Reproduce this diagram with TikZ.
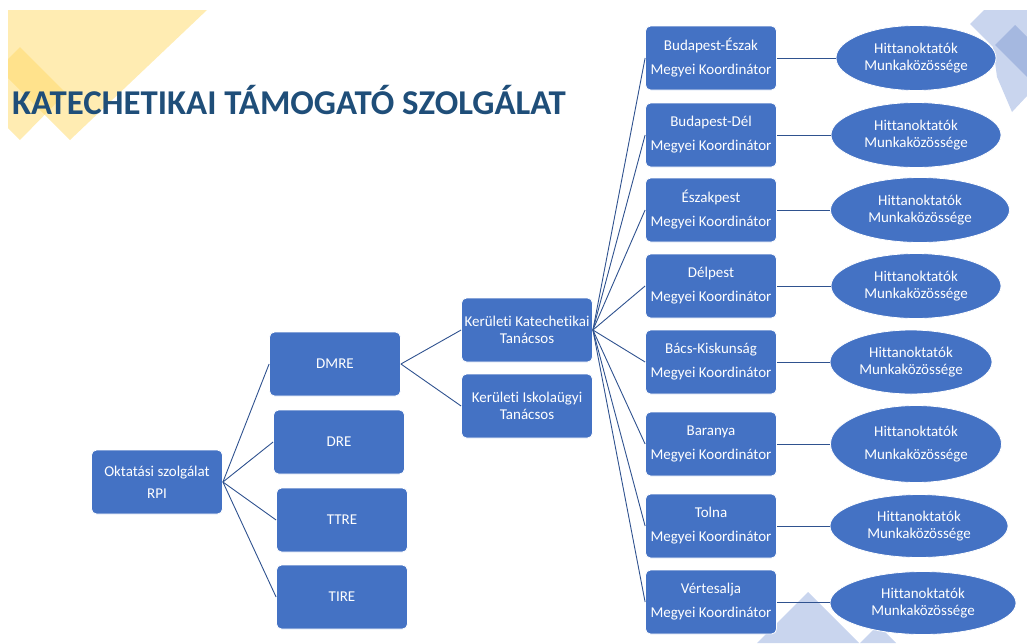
\documentclass[tikz,border=0pt]{standalone}
\usepackage{fontspec}
\setmainfont{Carlito}[Ligatures=NoCommon]
\usepackage{tikz}
\usepackage{xcolor}
\usetikzlibrary{shapes.geometric}

\definecolor{boxblue}{HTML}{4472C4}
\definecolor{lineblue}{HTML}{2F528F}
\definecolor{titleblue}{HTML}{1F4E79}
\definecolor{decoyellow}{HTML}{FFD966}
\definecolor{decoblue}{HTML}{C9D5EE}
\definecolor{decodark}{HTML}{A5B8E0}

\begin{document}
\begin{tikzpicture}[x=1pt, y=-1pt,
    box/.style={draw=white, line width=0.8pt, fill=boxblue, rounded corners=5pt,
        minimum width=131pt, minimum height=64pt, inner sep=0pt, text=white,
        align=center, font=\fontsize{15}{24}\selectfont},
    oval/.style={ellipse, draw=white, line width=0.8pt, fill=boxblue, inner sep=0pt,
        text=white, align=center, font=\fontsize{15}{17}\selectfont},
    link/.style={draw=lineblue, line width=0.9pt}]
    \useasboundingbox (0,0) rectangle (1027,643);

    % background shapes
    \fill[decoyellow, opacity=0.5] (8,10) -- (207,10) -- (70,140) -- (8,78) -- cycle;
    \fill[decoyellow, opacity=0.5] (8,59) -- (20,47) -- (66,93) -- (20,140) -- (8,128) -- cycle;
    \fill[decoblue] (984,10) -- (1027,10) -- (1027,96) -- (1012,112) -- (997,77) -- (993,47) -- (970,24) -- cycle;
    \fill[decodark] (1015,25) -- (1027,37) -- (1027,77) -- (995,45) -- cycle;
    \fill[decoblue] (808,592) -- (859,643) -- (757,643) -- cycle;
    \fill[decoblue] (878,625) -- (896,643) -- (860,643) -- cycle;

    \node[anchor=base west, inner sep=0pt, text=titleblue,
        font=\fontsize{34.8}{34.8}\selectfont\bfseries] (title) at (12,114) {KATECHETIKAI TÁMOGATÓ SZOLGÁLAT};

    \node[box, font=\fontsize{15}{22}\selectfont] (rpi) at (157,482) {Oktatási szolgálat\\RPI};
    \node[box] (dmre) at (335,364) {DMRE};
    \node[box] (dre) at (339,442) {DRE};
    \node[box] (ttre) at (342,520) {TTRE};
    \node[box] (tire) at (342,597) {TIRE};
    \node[box, font=\fontsize{15}{17}\selectfont] (kkt) at (527,330) {Kerületi Katechetikai\\Tanácsos};
    \node[box, font=\fontsize{15}{17}\selectfont] (kit) at (527,406) {Kerületi Iskolaügyi\\Tanácsos};

    \foreach \name/\y/\county in {bpeszak/58/Budapest-Észak, bpdel/135/Budapest-Dél,
        eszakpest/210/Északpest, delpest/286/Délpest, bacs/362/Bács-Kiskunság,
        baranya/444/Baranya, tolna/526/Tolna, vertes/602/Vértesalja}
        \node[box] (\name) at (711,\y) {\county\\Megyei Koordinátor};

    \foreach \name/\x/\y/\w/\h/\gap in {bpeszak/916/58/160/65/0pt, bpdel/916/135/170/65/0pt,
        eszakpest/920/210/179/65/0pt, delpest/916/286/170/65/0pt, bacs/911/362/162/64/0pt,
        baranya/916/444/171/77/6pt, tolna/919/526/178/63/0pt, vertes/923/603/186/63/0pt}
        \node[oval, minimum width=\w pt, minimum height=\h pt] (\name-mk) at (\x,\y) {Hittanoktatók\\[\gap]Munkaközössége};

    \foreach \to in {dmre, dre, ttre, tire}
        \draw[link] (rpi.east) -- (\to.west);
    \draw[link] (dmre.east) -- (kkt.west);
    \draw[link] (dmre.east) -- (kit.west);
    \foreach \name in {bpeszak, bpdel, eszakpest, delpest, bacs, baranya, tolna, vertes} {
        \draw[link] (kkt.east) -- (\name.west);
        \draw[link] (\name.east) -- (\name.east -| \name-mk.west);
    }
\end{tikzpicture}
\end{document}
